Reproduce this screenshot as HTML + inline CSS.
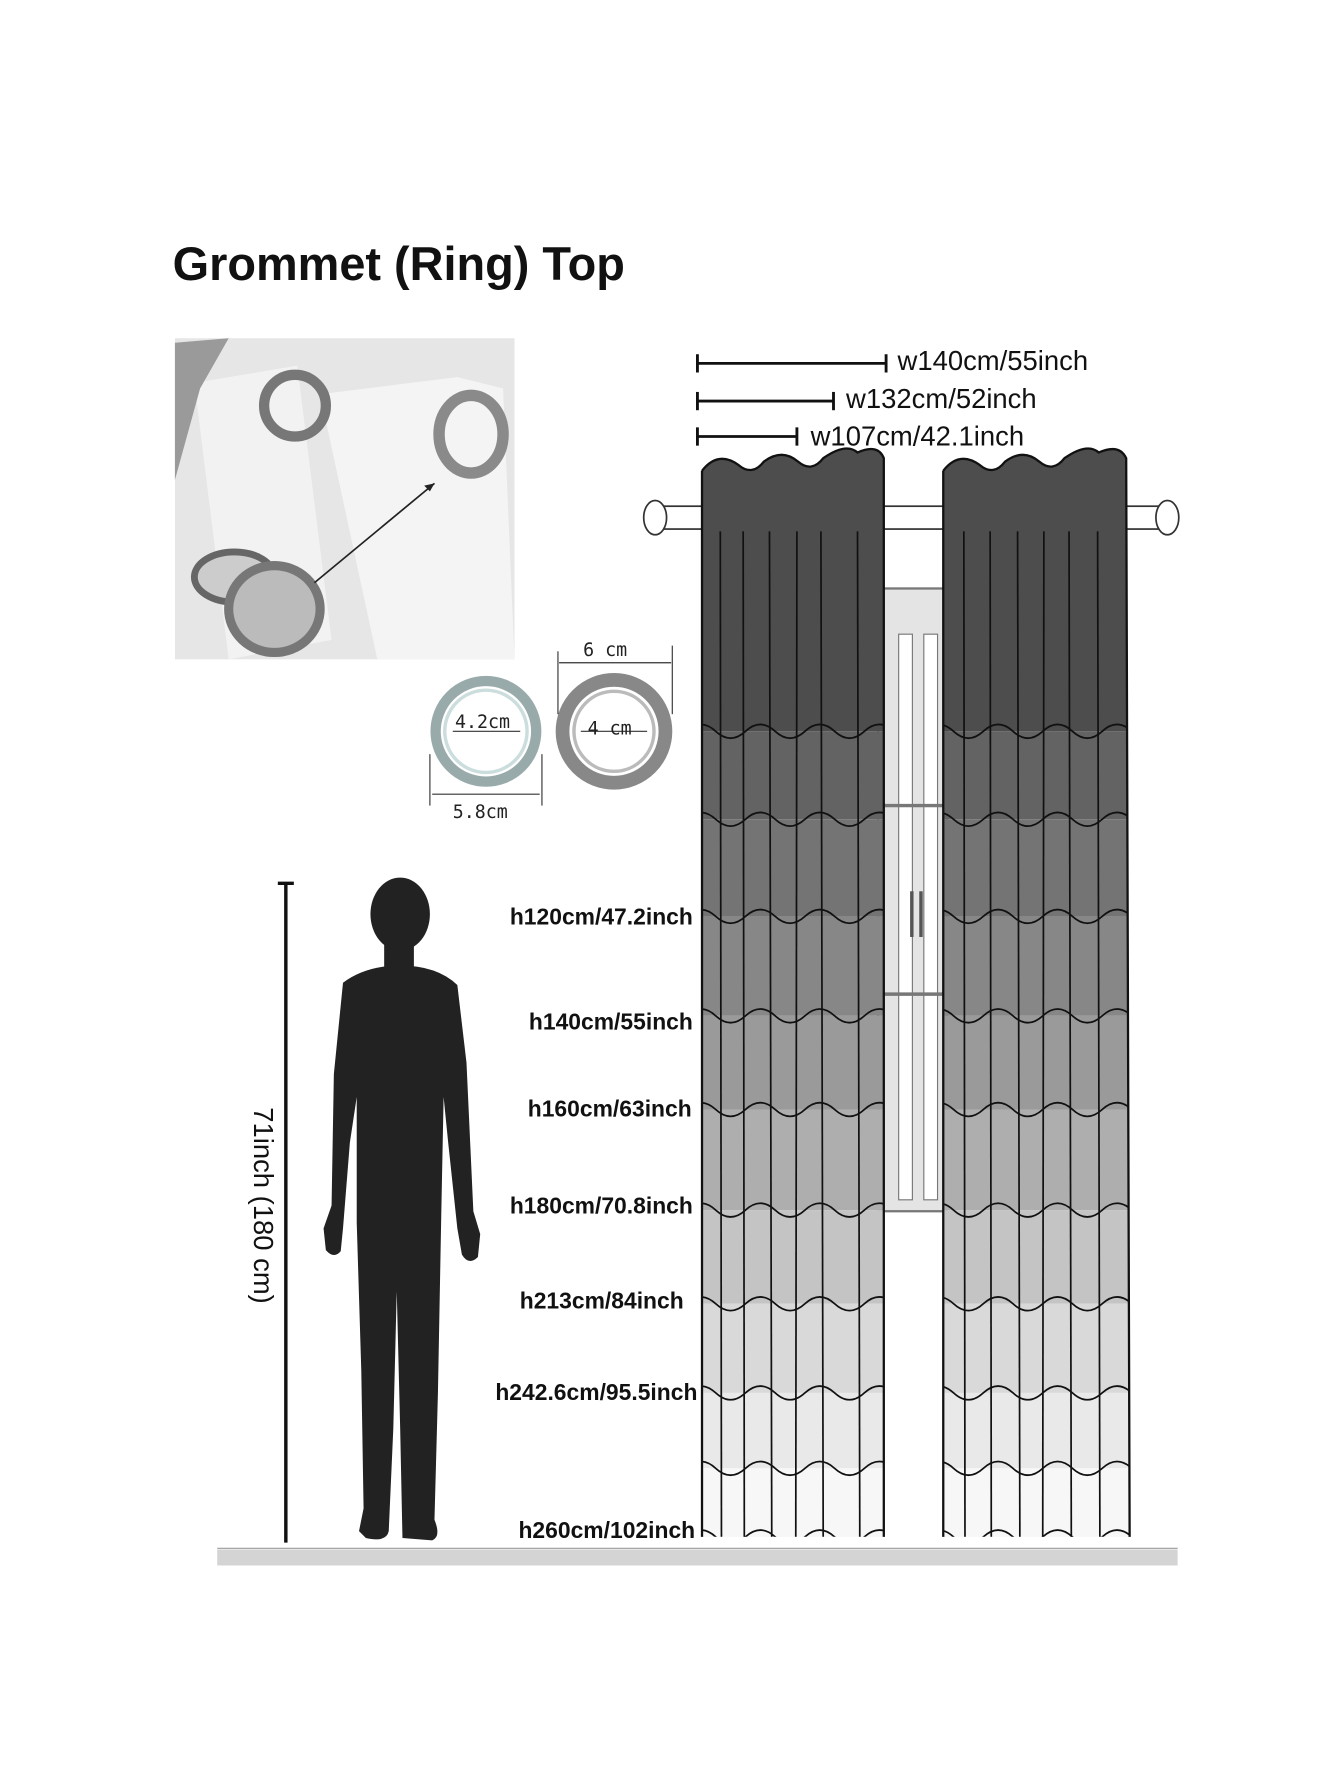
<!DOCTYPE html>
<html><head><meta charset="utf-8"><style>
html,body{margin:0;padding:0;background:#fff;}
svg{display:block;}
</style></head><body>
<svg width="1340" height="1786" viewBox="0 0 1172 1563" preserveAspectRatio="none" xmlns="http://www.w3.org/2000/svg" font-family="Liberation Sans, sans-serif">
<rect width="1172" height="1563" fill="#fff"/>
<text x="151" y="245" font-size="41" font-weight="bold" fill="#111">Grommet (Ring) Top</text>

<!-- photo -->
<rect x="153" y="296" width="297" height="281" fill="#e6e6e6"/>
<path d="M170 335 L260 320 L290 560 L200 577 Z" fill="#f2f2f2"/>
<path d="M280 345 L400 330 L440 340 L450 577 L330 577 Z" fill="#f4f4f4"/>
<path d="M153 300 L200 296 L175 340 L153 420 Z" fill="#9a9a9a"/>
<ellipse cx="258" cy="355" rx="27" ry="27" fill="none" stroke="#777" stroke-width="9"/>
<ellipse cx="412" cy="380" rx="28" ry="34" fill="none" stroke="#8a8a8a" stroke-width="10"/>
<ellipse cx="205" cy="505" rx="35" ry="22" fill="#ccc" stroke="#666" stroke-width="6"/>
<ellipse cx="240" cy="533" rx="40" ry="38" fill="#bbb" stroke="#777" stroke-width="8"/>
<line x1="275" y1="510" x2="380" y2="423" stroke="#222" stroke-width="1.5"/>
<path d="M380 423 l-9 2 l5 5 z" fill="#222"/>

<!-- rings -->
<circle cx="425" cy="640" r="44" fill="none" stroke="#9aa" stroke-width="9"/>
<circle cx="425" cy="640" r="36" fill="none" stroke="#cdd" stroke-width="3"/>
<circle cx="537" cy="640" r="45" fill="none" stroke="#888" stroke-width="12"/>
<circle cx="537" cy="640" r="35" fill="none" stroke="#bbb" stroke-width="3"/>
<g stroke="#333" stroke-width="1" fill="none">
<line x1="396" y1="640" x2="455" y2="640"/><line x1="508" y1="640" x2="566" y2="640"/>
<line x1="378" y1="695" x2="472" y2="695"/><line x1="376" y1="660" x2="376" y2="705"/><line x1="474" y1="660" x2="474" y2="705"/>
<line x1="489" y1="580" x2="587" y2="580"/><line x1="488" y1="570" x2="488" y2="625"/><line x1="588" y1="565" x2="588" y2="625"/>
</g>
<g font-family="DejaVu Sans Mono, monospace" font-size="16" fill="#222">
<text x="398" y="637">4.2cm</text><text x="514" y="643">4 cm</text>
<text x="396" y="716">5.8cm</text><text x="510" y="574">6 cm</text>
</g>

<!-- width labels -->
<g stroke="#111" stroke-width="2.5">
<line x1="610" y1="318" x2="775" y2="318"/><line x1="610" y1="310" x2="610" y2="326"/><line x1="775" y1="310" x2="775" y2="326"/>
<line x1="610" y1="351" x2="729" y2="351"/><line x1="610" y1="343" x2="610" y2="359"/><line x1="729" y1="343" x2="729" y2="359"/>
<line x1="610" y1="382" x2="697" y2="382"/><line x1="610" y1="374" x2="610" y2="390"/><line x1="697" y1="374" x2="697" y2="390"/>
</g>
<g font-size="24" fill="#111">
<text x="785" y="324">w140cm/55inch</text>
<text x="740" y="357">w132cm/52inch</text>
<text x="709" y="390">w107cm/42.1inch</text>
</g>

<!-- window -->
<rect x="768" y="515" width="60" height="545" fill="#e4e4e4" stroke="#777" stroke-width="2"/>
<rect x="786" y="555" width="12" height="495" fill="#fff" stroke="#777"/>
<rect x="808" y="555" width="12" height="495" fill="#fff" stroke="#777"/>
<line x1="768" y1="705" x2="828" y2="705" stroke="#777" stroke-width="3"/>
<line x1="768" y1="870" x2="828" y2="870" stroke="#777" stroke-width="3"/>
<rect x="796" y="780" width="3" height="40" fill="#555"/><rect x="804" y="780" width="3" height="40" fill="#555"/>

<!-- rod -->
<rect x="580" y="443" width="440" height="20" fill="#fff" stroke="#333" stroke-width="1.5"/>
<ellipse cx="573" cy="453" rx="10" ry="15" fill="#fff" stroke="#333" stroke-width="1.5"/>
<ellipse cx="1021" cy="453" rx="10" ry="15" fill="#fff" stroke="#333" stroke-width="1.5"/>

<defs>
<clipPath id="cl"><path d="M614 412 q14 -18 32 -5 q12 10 22 -3 q16 -12 30 0 q12 10 22 -3 q20 -14 30 -5 q18 -8 23 5 L773 1345 L614 1345 Z"/></clipPath>
<clipPath id="cr"><path d="M825 412 q14 -18 32 -5 q12 10 22 -3 q16 -12 30 0 q12 10 22 -3 q20 -14 30 -5 q18 -8 24 5 L988 1345 L825 1345 Z"/></clipPath>
<g id="bands">
<rect x="600" y="390" width="400" height="250" fill="#4d4d4d"/>
<rect x="600" y="640" width="400" height="77" fill="#636363"/>
<rect x="600" y="717" width="400" height="85" fill="#747474"/>
<rect x="600" y="802" width="400" height="87" fill="#878787"/>
<rect x="600" y="889" width="400" height="82" fill="#9a9a9a"/>
<rect x="600" y="971" width="400" height="88" fill="#aeaeae"/>
<rect x="600" y="1059" width="400" height="82" fill="#c4c4c4"/>
<rect x="600" y="1141" width="400" height="78" fill="#d9d9d9"/>
<rect x="600" y="1219" width="400" height="66" fill="#e9e9e9"/>
<rect x="600" y="1285" width="400" height="70" fill="#f7f7f7"/>
</g>
<g id="waves" fill="none" stroke="#111" stroke-width="1.5">
<path d="M600 640 q13 -12 26 0 t26 0 t26 0 t26 0 t26 0 t26 0 t26 0 t26 0 t26 0 t26 0 t26 0 t26 0 t26 0 t26 0 t26 0 t26 0"/>
<path d="M600 717 q13 -12 26 0 t26 0 t26 0 t26 0 t26 0 t26 0 t26 0 t26 0 t26 0 t26 0 t26 0 t26 0 t26 0 t26 0 t26 0 t26 0"/>
<path d="M600 802 q13 -12 26 0 t26 0 t26 0 t26 0 t26 0 t26 0 t26 0 t26 0 t26 0 t26 0 t26 0 t26 0 t26 0 t26 0 t26 0 t26 0"/>
<path d="M600 889 q13 -12 26 0 t26 0 t26 0 t26 0 t26 0 t26 0 t26 0 t26 0 t26 0 t26 0 t26 0 t26 0 t26 0 t26 0 t26 0 t26 0"/>
<path d="M600 971 q13 -12 26 0 t26 0 t26 0 t26 0 t26 0 t26 0 t26 0 t26 0 t26 0 t26 0 t26 0 t26 0 t26 0 t26 0 t26 0 t26 0"/>
<path d="M600 1059 q13 -12 26 0 t26 0 t26 0 t26 0 t26 0 t26 0 t26 0 t26 0 t26 0 t26 0 t26 0 t26 0 t26 0 t26 0 t26 0 t26 0"/>
<path d="M600 1141 q13 -12 26 0 t26 0 t26 0 t26 0 t26 0 t26 0 t26 0 t26 0 t26 0 t26 0 t26 0 t26 0 t26 0 t26 0 t26 0 t26 0"/>
<path d="M600 1219 q13 -12 26 0 t26 0 t26 0 t26 0 t26 0 t26 0 t26 0 t26 0 t26 0 t26 0 t26 0 t26 0 t26 0 t26 0 t26 0 t26 0"/>
<path d="M600 1285 q13 -12 26 0 t26 0 t26 0 t26 0 t26 0 t26 0 t26 0 t26 0 t26 0 t26 0 t26 0 t26 0 t26 0 t26 0 t26 0 t26 0"/>
<path d="M600 1345 q13 -12 26 0 t26 0 t26 0 t26 0 t26 0 t26 0 t26 0 t26 0 t26 0 t26 0 t26 0 t26 0 t26 0 t26 0 t26 0 t26 0"/>
</g>
</defs>

<g clip-path="url(#cl)"><use href="#bands"/><use href="#waves"/>
<g stroke="#111" stroke-width="1.5"><line x1="630" y1="465" x2="631" y2="1350"/><line x1="650" y1="465" x2="651" y2="1350"/><line x1="673" y1="465" x2="675" y2="1350"/><line x1="697" y1="465" x2="696" y2="1350"/><line x1="718" y1="465" x2="720" y2="1350"/><line x1="750" y1="465" x2="752" y2="1350"/></g></g>
<path d="M614 412 q14 -18 32 -5 q12 10 22 -3 q16 -12 30 0 q12 10 22 -3 q20 -14 30 -5 q18 -8 23 5 L773 1345 M614 412 L614 1345" fill="none" stroke="#111" stroke-width="2"/>

<g clip-path="url(#cr)"><use href="#bands"/><use href="#waves"/>
<g stroke="#111" stroke-width="1.5"><line x1="843" y1="465" x2="844" y2="1350"/><line x1="866" y1="465" x2="867" y2="1350"/><line x1="890" y1="465" x2="892" y2="1350"/><line x1="913" y1="465" x2="912" y2="1350"/><line x1="935" y1="465" x2="937" y2="1350"/><line x1="960" y1="465" x2="962" y2="1350"/></g></g>
<path d="M825 412 q14 -18 32 -5 q12 10 22 -3 q16 -12 30 0 q12 10 22 -3 q20 -14 30 -5 q18 -8 24 5 L988 1345 M825 412 L825 1345" fill="none" stroke="#111" stroke-width="2"/>

<!-- height labels -->
<g font-size="20" font-weight="bold" fill="#111" text-anchor="end">
<text x="606" y="809">h120cm/47.2inch</text>
<text x="606" y="901">h140cm/55inch</text>
<text x="605" y="977">h160cm/63inch</text>
<text x="606" y="1062">h180cm/70.8inch</text>
<text x="598" y="1145">h213cm/84inch</text>
<text x="610" y="1225">h242.6cm/95.5inch</text>
<text x="608" y="1346">h260cm/102inch</text>
</g>

<!-- ground -->
<line x1="190" y1="1355" x2="1030" y2="1355" stroke="#999" stroke-width="1"/>
<rect x="190" y="1356" width="840" height="14" fill="#d4d4d4"/>

<!-- dimension -->
<line x1="250" y1="773" x2="250" y2="1350" stroke="#111" stroke-width="3"/>
<line x1="243" y1="773" x2="257" y2="773" stroke="#111" stroke-width="3"/>
<text transform="translate(222,1055) rotate(90)" font-size="24" fill="#111" text-anchor="middle">71inch (180 cm)</text>

<!-- person -->
<g fill="#222">
<ellipse cx="350" cy="800" rx="26" ry="32"/>
<rect x="336" y="822" width="26" height="30"/>
<path d="M300 860 Q320 845 350 845 Q382 845 400 862 L408 930 L414 1060 L420 1080 L418 1100 Q410 1108 404 1098 L400 1075 L392 1000 L388 960 L386 1060 L383 1220 L380 1330 Q386 1345 378 1348 L352 1346 L350 1250 L347 1130 L344 1250 L340 1340 Q338 1350 320 1346 L314 1340 L318 1320 L316 1200 L312 1070 L312 960 L306 1000 L300 1075 L298 1095 Q292 1102 285 1094 L283 1075 L290 1055 L292 940 Z"/>
</g>
</svg>
</body></html>
